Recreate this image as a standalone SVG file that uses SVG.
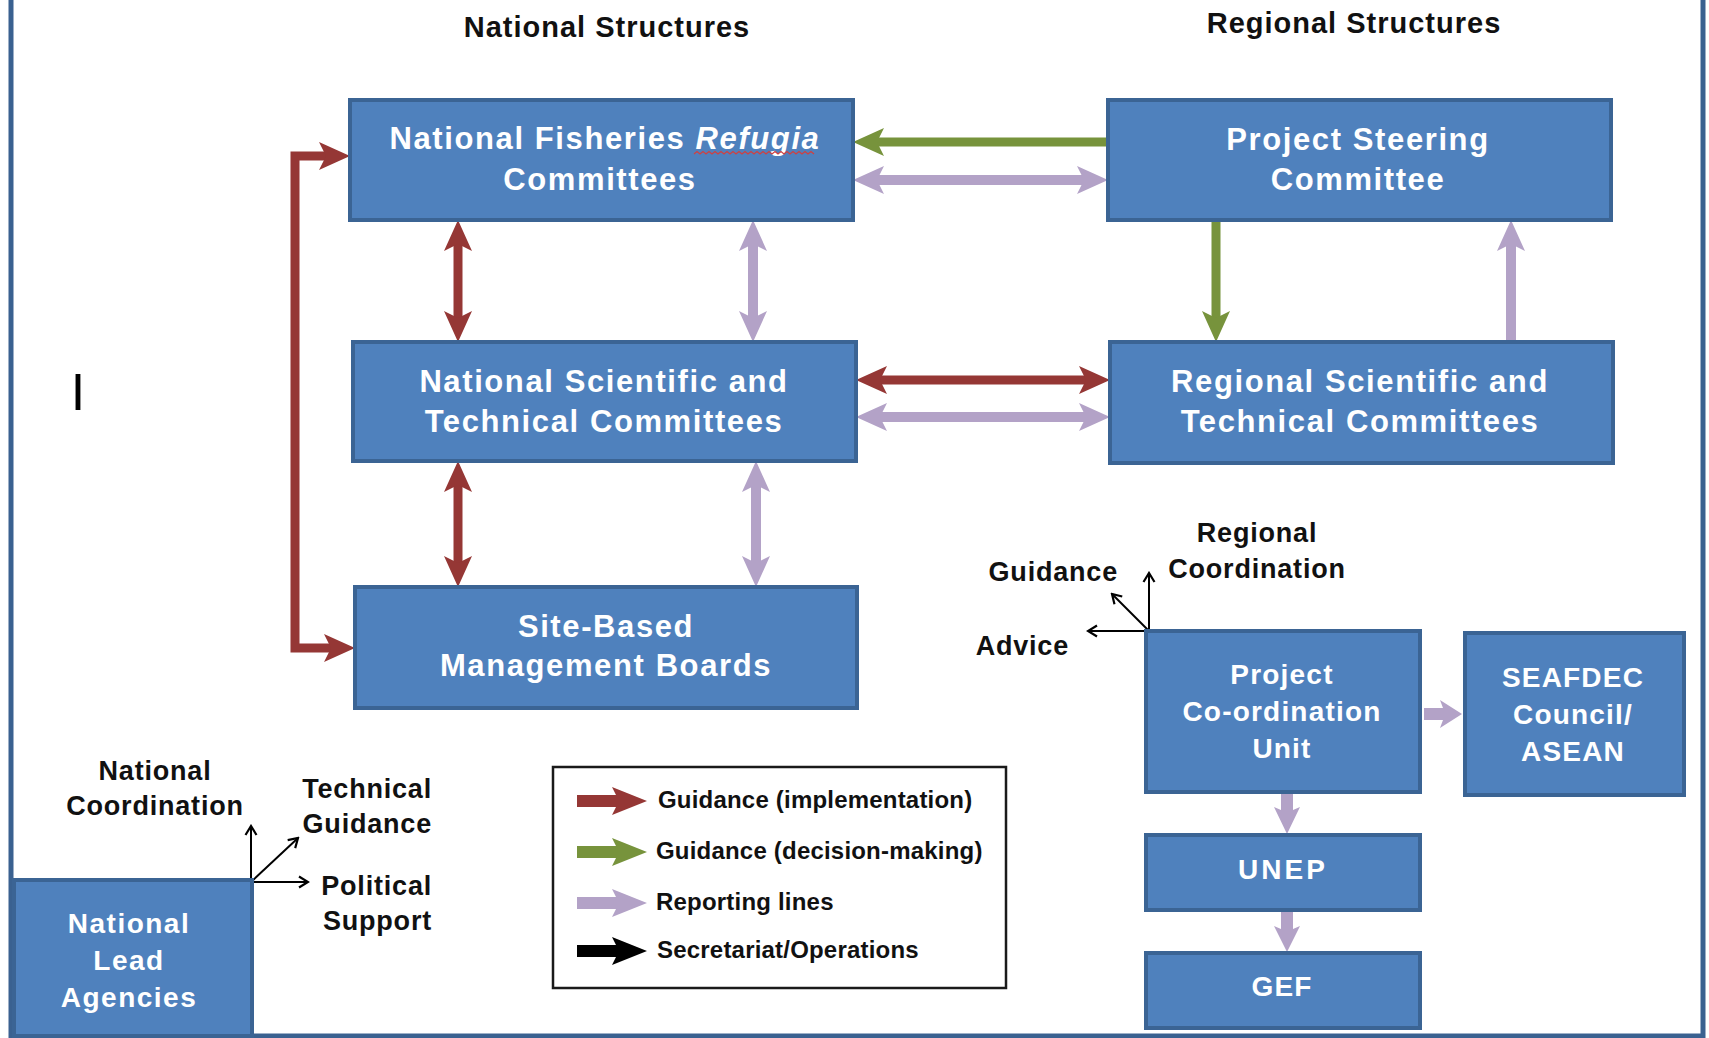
<svg xmlns="http://www.w3.org/2000/svg" width="1709" height="1038" viewBox="0 0 1709 1038">
<style>
.box{fill:#4f81bd;stroke:#3b6494;stroke-width:4}
.bt{font-family:"Liberation Sans",Arial,sans-serif;font-weight:bold;fill:#ffffff;text-anchor:middle}
.big{font-size:31px;letter-spacing:1.6px}
.sm{font-size:28px;letter-spacing:1.2px}
.lab{font-family:"Liberation Sans",Arial,sans-serif;font-weight:bold;fill:#111111;font-size:27px;letter-spacing:0.8px}
.ttl{font-family:"Liberation Sans",Arial,sans-serif;font-weight:bold;fill:#111111;font-size:29px;letter-spacing:1px;text-anchor:middle}
.leg{font-family:"Liberation Sans",Arial,sans-serif;font-weight:bold;fill:#111111;font-size:24px;letter-spacing:0.2px}
.red{fill:none;stroke:#953735;stroke-width:9}
.grn{fill:none;stroke:#77933c;stroke-width:9}
.lil{fill:none;stroke:#b3a2c7;stroke-width:10}
.blk{fill:none;stroke:#000000;stroke-width:2}
</style>
<defs>
<marker id="hr" markerUnits="userSpaceOnUse" markerWidth="32" markerHeight="30" viewBox="0 0 32 30" refX="8" refY="15" orient="auto-start-reverse"><path d="M0,1 L31,15 L0,29 L7,15 Z" fill="#953735"/></marker>
<marker id="hg" markerUnits="userSpaceOnUse" markerWidth="32" markerHeight="30" viewBox="0 0 32 30" refX="8" refY="15" orient="auto-start-reverse"><path d="M0,1 L31,15 L0,29 L7,15 Z" fill="#77933c"/></marker>
<marker id="hl" markerUnits="userSpaceOnUse" markerWidth="32" markerHeight="30" viewBox="0 0 32 30" refX="8" refY="15" orient="auto-start-reverse"><path d="M0,1 L31,15 L0,29 L7,15 Z" fill="#b3a2c7"/></marker>
<marker id="hb" markerUnits="userSpaceOnUse" markerWidth="14" markerHeight="14" viewBox="0 0 14 14" refX="12" refY="7" orient="auto"><path d="M3,1.5 L12,7 L3,12.5" fill="none" stroke="#000" stroke-width="2.2"/></marker>
</defs>
<rect x="0" y="0" width="1709" height="1038" fill="#ffffff"/>
<rect id="frame" x="11" y="-20" width="1692" height="1056" fill="none" stroke="#3a6190" stroke-width="5"/>

<text class="ttl" x="607" y="37">National Structures</text>
<text class="ttl" x="1354" y="33">Regional Structures</text>
<text x="78" y="410" font-family="Liberation Sans, Arial, sans-serif" font-size="52" text-anchor="middle" fill="#000">I</text>

<g id="connectors">
<path class="red" d="M327,156 L295,156 L295,648 L332,648" marker-start="url(#hr)" marker-end="url(#hr)"/>
<path class="red" d="M458,243 L458,319" marker-start="url(#hr)" marker-end="url(#hr)"/>
<path class="lil" d="M753,243 L753,319" marker-start="url(#hl)" marker-end="url(#hl)"/>
<path class="red" d="M458,484 L458,564" marker-start="url(#hr)" marker-end="url(#hr)"/>
<path class="lil" d="M756,484 L756,564" marker-start="url(#hl)" marker-end="url(#hl)"/>
<path class="grn" d="M1108,142 L876,142" marker-end="url(#hg)"/>
<path class="lil" d="M876,180 L1085,180" marker-start="url(#hl)" marker-end="url(#hl)"/>
<path class="red" d="M879,380 L1087,380" marker-start="url(#hr)" marker-end="url(#hr)"/>
<path class="lil" d="M879,417 L1087,417" marker-start="url(#hl)" marker-end="url(#hl)"/>
<path class="grn" d="M1216,220 L1216,319" marker-end="url(#hg)"/>
<path class="lil" d="M1511,342 L1511,243" marker-end="url(#hl)"/>
<path d="M1424,708 L1443,708 L1440,700 L1462,714 L1440,728 L1443,720 L1424,720 Z" fill="#b3a2c7"/>
<path d="M1281,793 L1281,810 L1274,807 L1287,834 L1300,807 L1293,810 L1293,793 Z" fill="#b3a2c7"/>
<path d="M1281,911 L1281,929 L1274,926 L1287,952 L1300,926 L1293,929 L1293,911 Z" fill="#b3a2c7"/>
<path class="blk" d="M251,882 L251,826" marker-end="url(#hb)"/>
<path class="blk" d="M251,882 L298,838" marker-end="url(#hb)"/>
<path class="blk" d="M251,882 L308,882" marker-end="url(#hb)"/>
<path class="blk" d="M1149,631 L1149,573" marker-end="url(#hb)"/>
<path class="blk" d="M1149,631 L1112,594" marker-end="url(#hb)"/>
<path class="blk" d="M1149,631 L1088,631" marker-end="url(#hb)"/>
</g>

<g id="nfrc">
<rect class="box" x="350" y="100" width="503" height="120"/>
<text class="bt big" x="605" y="149">National Fisheries <tspan font-style="italic">Refugia</tspan></text>
<text class="bt big" x="600" y="190">Committees</text>
<path d="M694,154 l3,-2.5 l3,2.5 l3,-2.5 l3,2.5 l3,-2.5 l3,2.5 l3,-2.5 l3,2.5 l3,-2.5 l3,2.5 l3,-2.5 l3,2.5 l3,-2.5 l3,2.5 l3,-2.5 l3,2.5 l3,-2.5 l3,2.5 l3,-2.5 l3,2.5 l3,-2.5 l3,2.5 l3,-2.5 l3,2.5 l3,-2.5 l3,2.5 l3,-2.5 l3,2.5 l3,-2.5 l3,2.5 l3,-2.5 l3,2.5 l3,-2.5 l3,2.5 l3,-2.5 l3,2.5 l3,-2.5 l3,2.5 l3,-2.5 l3,2.5" fill="none" stroke="#d04040" stroke-width="1.3"/>
</g>
<g id="nstc">
<rect class="box" x="353" y="342" width="503" height="119"/>
<text class="bt big" x="604" y="392">National Scientific and</text>
<text class="bt big" x="604" y="432">Technical Committees</text>
</g>
<g id="sbmb">
<rect class="box" x="355" y="587" width="502" height="121"/>
<text class="bt big" x="606" y="637">Site-Based</text>
<text class="bt big" x="606" y="676">Management Boards</text>
</g>
<g id="psc">
<rect class="box" x="1108" y="100" width="503" height="120"/>
<text class="bt big" x="1358" y="150">Project Steering</text>
<text class="bt big" x="1358" y="190">Committee</text>
</g>
<g id="rstc">
<rect class="box" x="1110" y="342" width="503" height="121"/>
<text class="bt big" x="1360" y="392">Regional Scientific and</text>
<text class="bt big" x="1360" y="432">Technical Committees</text>
</g>
<g id="pcu">
<rect class="box" x="1146" y="631" width="274" height="161"/>
<text class="bt sm" x="1282" y="684">Project</text>
<text class="bt sm" x="1282" y="721">Co-ordination</text>
<text class="bt sm" x="1282" y="758">Unit</text>
</g>
<g id="seafdec">
<rect class="box" x="1465" y="633" width="219" height="162"/>
<text class="bt sm" x="1573" y="687">SEAFDEC</text>
<text class="bt sm" x="1573" y="724">Council/</text>
<text class="bt sm" x="1573" y="761">ASEAN</text>
</g>
<g id="unep">
<rect class="box" x="1146" y="835" width="274" height="75"/>
<text class="bt sm" x="1283" y="879" style="letter-spacing:3px">UNEP</text>
</g>
<g id="gef">
<rect class="box" x="1146" y="953" width="274" height="75"/>
<text class="bt sm" x="1282" y="996">GEF</text>
</g>
<g id="nla">
<rect class="box" x="14" y="880" width="238" height="156"/>
<text class="bt sm" x="129" y="933" style="letter-spacing:1.5px">National</text>
<text class="bt sm" x="129" y="970" style="letter-spacing:1.5px">Lead</text>
<text class="bt sm" x="129" y="1007" style="letter-spacing:1.5px">Agencies</text>
</g>

<g id="labels">
<text class="lab" x="155" y="780" text-anchor="middle">National</text>
<text class="lab" x="155" y="815" text-anchor="middle">Coordination</text>
<text class="lab" x="432" y="798" text-anchor="end">Technical</text>
<text class="lab" x="432" y="833" text-anchor="end">Guidance</text>
<text class="lab" x="432" y="895" text-anchor="end">Political</text>
<text class="lab" x="432" y="930" text-anchor="end">Support</text>
<text class="lab" x="1257" y="542" text-anchor="middle">Regional</text>
<text class="lab" x="1257" y="578" text-anchor="middle">Coordination</text>
<text class="lab" x="1118" y="581" text-anchor="end">Guidance</text>
<text class="lab" x="1069" y="655" text-anchor="end">Advice</text>
</g>

<g id="legend">
<rect x="553" y="767" width="453" height="221" fill="#ffffff" stroke="#1a1a1a" stroke-width="2.5"/>
<path d="M577,795 L616,795 L612,787 L647,801 L612,815 L616,807 L577,807 Z" fill="#953735"/>
<path d="M577,846 L616,846 L612,838 L647,852 L612,866 L616,858 L577,858 Z" fill="#77933c"/>
<path d="M577,897 L616,897 L612,889 L647,903 L612,917 L616,909 L577,909 Z" fill="#b3a2c7"/>
<path d="M577,945 L616,945 L612,937 L647,951 L612,965 L616,957 L577,957 Z" fill="#000000"/>
<text class="leg" x="658" y="808">Guidance (implementation)</text>
<text class="leg" x="656" y="859">Guidance (decision-making)</text>
<text class="leg" x="656" y="910">Reporting lines</text>
<text class="leg" x="657" y="958">Secretariat/Operations</text>
</g>
</svg>
